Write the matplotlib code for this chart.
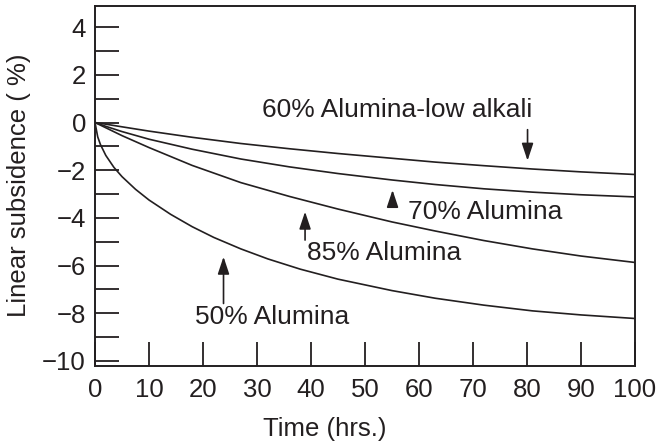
import matplotlib
matplotlib.use("Agg")
import matplotlib.pyplot as plt
from matplotlib.ticker import MultipleLocator

plt.rcParams['font.family'] = ['Liberation Sans', 'DejaVu Sans']

INK = '#231f20'

# Data
x60 = [0, 2, 5, 10, 18, 27, 36, 45, 55, 63, 72, 81, 90, 100]
y60 = [0, -0.07, -0.18, -0.36, -0.62, -0.88, -1.1, -1.3, -1.5, -1.66, -1.81, -1.95, -2.07, -2.18]

x70 = [0, 2, 5, 10, 18, 27, 36, 45, 55, 63, 72, 81, 90, 100]
y70 = [0, -0.16, -0.38, -0.7, -1.12, -1.53, -1.86, -2.14, -2.41, -2.6, -2.78, -2.92, -3.03, -3.12]

x85 = [0, 2, 5, 10, 18, 27, 36, 45, 55, 63, 72, 81, 90, 100]
y85 = [0, -0.22, -0.55, -1.05, -1.8, -2.52, -3.1, -3.63, -4.17, -4.55, -4.95, -5.3, -5.6, -5.87]

x50 = [0, 0.5, 1, 2, 3.5, 5, 7.5, 10, 14, 18, 22, 27, 32, 38, 45, 55, 63, 72, 81, 90, 100]
y50 = [0, -0.6, -0.92, -1.38, -1.88, -2.27, -2.8, -3.25, -3.85, -4.37, -4.82, -5.3, -5.72,
       -6.15, -6.57, -7.05, -7.37, -7.66, -7.9, -8.07, -8.22]

labels = ['60% Alumina-low alkali', '70% Alumina', '85% Alumina', '50% Alumina']
label_xy = [(30.9, 0.53), (58.0, -3.74), (39.2, -5.49), (18.5, -8.15)]
arrow_tail = [(80.1, -0.3), (55.1, -3.53), (38.9, -4.93), (23.8, -7.59)]
arrow_tip = [(80.1, -1.6), (55.1, -2.83), (38.9, -3.74), (23.8, -5.63)]

x_ticks = [0, 10, 20, 30, 40, 50, 60, 70, 80, 90, 100]
y_ticks = [4, 2, 0, -2, -4, -6, -8, -10]

fig = plt.figure(figsize=(6.61, 4.47), dpi=100)
ax = fig.add_axes([95 / 661, 1 - 365.7 / 447, 540 / 661, 360 / 447])

for xs, ys in [(x60, y60), (x70, y70), (x85, y85), (x50, y50)]:
    ax.plot(xs, ys, color=INK, lw=1.2, solid_joinstyle='round')

fs = 18.5
for lab, (lx, ly) in zip(labels, label_xy):
    ax.text(lx, ly, lab, fontsize=19, color=INK, ha='left', va='center')

for (tx, ty), (hx, hy) in zip(arrow_tail, arrow_tip):
    ax.annotate('', xy=(hx, hy), xytext=(tx, ty),
                arrowprops=dict(arrowstyle='-|>,head_length=0.75,head_width=0.25',
                                color=INK, lw=1.2, shrinkA=0, shrinkB=0,
                                mutation_scale=14))

ax.set_xlim(0, 100)
ax.set_ylim(-10.2, 4.9)
ax.set_xticks(x_ticks)
ax.set_yticks(y_ticks)
ax.set_yticklabels([f'{v}'.replace('-', '\u2212') for v in y_ticks])
ax.yaxis.set_minor_locator(MultipleLocator(1))

ax.tick_params(axis='both', which='both', direction='in', length=17, width=1.3,
               color=INK, labelcolor=INK, labelsize=fs)
ax.tick_params(axis='x', pad=8.5)
ax.tick_params(axis='y', pad=6.5)
ax.tick_params(axis='x', which='both', top=False)
ax.tick_params(axis='y', which='both', right=False)

for s in ax.spines.values():
    s.set_linewidth(1.4)
    s.set_color(INK)

ax.set_xlabel('Time (hrs.)', fontsize=fs, color=INK)
ax.xaxis.set_label_coords(0.426, -0.1425)
ax.set_ylabel('Linear subsidence ( %)', fontsize=fs, color=INK, labelpad=8)

fig.savefig('out.png', dpi=100)
